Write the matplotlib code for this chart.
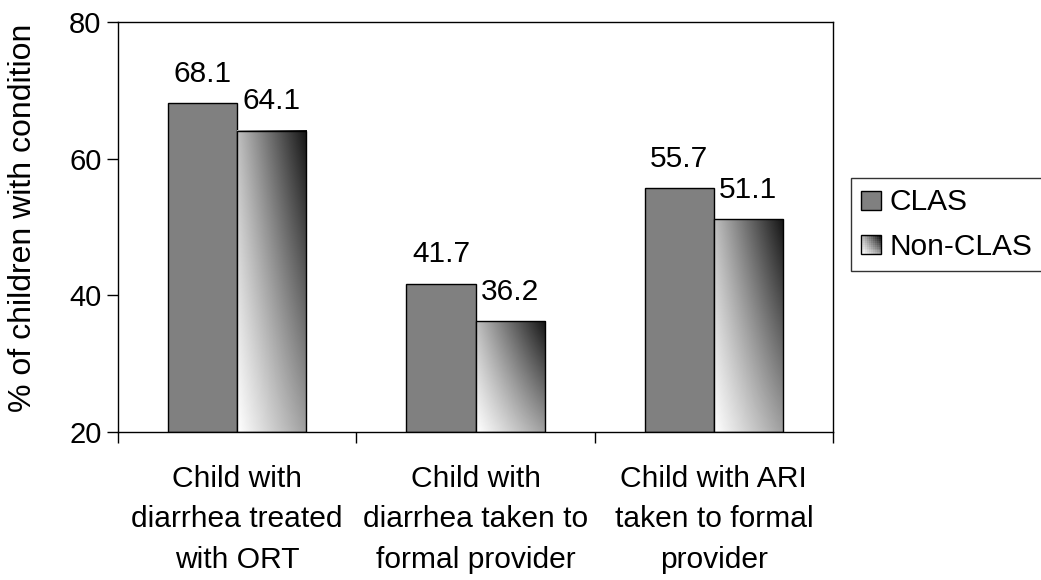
import numpy as np
import matplotlib
matplotlib.use("Agg")
import matplotlib.pyplot as plt
from matplotlib.patches import Rectangle
from matplotlib.legend_handler import HandlerBase

plt.rcParams['font.family'] = ['Liberation Sans', 'DejaVu Sans']

categories = ["Child with\ndiarrhea treated\nwith ORT",
              "Child with\ndiarrhea taken to\nformal provider",
              "Child with ARI\ntaken to formal\nprovider"]
clas = [68.1, 41.7, 55.7]
non_clas = [64.1, 36.2, 51.1]
series_names = ["CLAS", "Non-CLAS"]

y_min, y_max = 20, 80
bar_w = 0.29


def gradient(n=100):
    # bilinear shade: light top-left, white bottom-left, black top-right
    tl, tr, bl, br = 0.75, 0.08, 1.0, 0.62
    u = np.linspace(0, 1, n)[None, :]
    v = np.linspace(0, 1, n)[:, None]  # 0 = top, 1 = bottom
    top = tl + (tr - tl) * u
    bot = bl + (br - bl) * u
    return top + (bot - top) * v


class GradHandler(HandlerBase):
    def create_artists(self, legend, orig, xd, yd, w, h, fs, trans):
        n = 10
        g = gradient(n)
        arts = []
        s = min(w, h)
        x0 = -xd + (w - s) / 2
        y0 = -yd
        for i in range(n):
            for j in range(n):
                c = g[n - 1 - i, j]
                arts.append(Rectangle((x0 + j * s / n, y0 + i * s / n), s / n, s / n,
                                      facecolor=(c, c, c), edgecolor='none', transform=trans))
        arts.append(Rectangle((x0, y0), s, s, facecolor='none', edgecolor='black',
                              lw=1, transform=trans))
        return arts


class SquareHandler(HandlerBase):
    def create_artists(self, legend, orig, xd, yd, w, h, fs, trans):
        s = min(w, h)
        return [Rectangle((-xd + (w - s) / 2, -yd), s, s, facecolor='#808080',
                          edgecolor='black', lw=1, transform=trans)]


fig = plt.figure(figsize=(10.41, 5.80), dpi=100)
ax = fig.add_axes([0.1134, 0.2552, 0.6868, 0.7068])

x = np.arange(len(categories))
b1 = ax.bar(x - bar_w / 2, np.array(clas) - y_min, bar_w, bottom=y_min,
            color='#808080', edgecolor='black', lw=1, zorder=2)
b2 = ax.bar(x + bar_w / 2, np.array(non_clas) - y_min, bar_w, bottom=y_min,
            facecolor='none', edgecolor='black', lw=1, zorder=3)
g = gradient()
for xi, v in zip(x, non_clas):
    ax.imshow(g, cmap='gray', vmin=0, vmax=1, aspect='auto', zorder=2,
              extent=(xi, xi + bar_w, y_min, v), interpolation='bilinear')

for xi, v in zip(x, clas):
    ax.annotate(f"{v}", (xi - bar_w / 2, v), xytext=(0, 11), textcoords='offset points',
                ha='center', va='bottom', fontsize=21.5)
for xi, v in zip(x, non_clas):
    ax.annotate(f"{v}", (xi + bar_w / 2, v), xytext=(0, 11), textcoords='offset points',
                ha='center', va='bottom', fontsize=21.5)

ax.set_xlim(-0.5, len(categories) - 0.5)
ax.set_ylim(y_min, y_max)
ax.set_yticks([20, 40, 60, 80])
ax.tick_params(axis='y', labelsize=21, direction='out', length=8, width=1, pad=4)
ax.set_xticks(np.arange(len(categories) + 1) - 0.5)
ax.set_xticklabels([])
ax.tick_params(axis='x', direction='out', length=8, width=1)
ax.set_xticks(x, minor=True)
ax.set_xticklabels(categories, minor=True, fontsize=21.6, linespacing=1.55)
ax.tick_params(axis='x', which='minor', length=0, pad=24)
ax.set_ylabel("% of children with condition", fontsize=23)
ax.yaxis.set_label_coords(-0.112, 0.522)
for s in ax.spines.values():
    s.set_linewidth(1)

leg = fig.legend([b1, b2], series_names, loc='upper left',
                 bbox_to_anchor=(851 / 1041, 1 - 178 / 580), fontsize=21.5, frameon=True,
                 fancybox=False, edgecolor='black', handlelength=0.65, handleheight=0.65,
                 handletextpad=0.3, borderpad=0.35, labelspacing=0.55, borderaxespad=0,
                 handler_map={b1: SquareHandler(), b2: GradHandler()})
leg.get_frame().set_linewidth(1)

fig.savefig("out.png", dpi=100)
